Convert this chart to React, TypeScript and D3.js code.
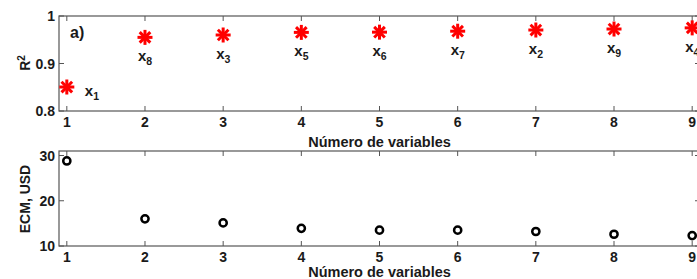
import React from "react";
import * as d3 from "d3";

const nVars = [1, 2, 3, 4, 5, 6, 7, 8, 9];
const r2Values = [0.8505, 0.955, 0.96, 0.9655, 0.966, 0.968, 0.9705, 0.9726, 0.975];
const varLabels = ["1", "8", "3", "5", "6", "7", "2", "9", "4"];
const ecmValues = [28.8, 16.0, 15.1, 13.9, 13.5, 13.5, 13.2, 12.6, 12.3];
const r2Ticks = [0.8, 0.9, 1];
const ecmTicks = [10, 20, 30];

const W = 697;
const H = 279;
const left = 59;
const right = 700;
const font = "'Liberation Sans', Arial, sans-serif";
const axisColor = "#555";
const textColor = "#1a1a1a";

function Asterisk({ cx, cy }: { cx: number; cy: number }) {
  const r = 7.5;
  const angles = [0, 45, 90, 135];
  return (
    <g stroke="#ff0000" strokeWidth={3} strokeLinecap="butt">
      {angles.map((a) => {
        const rad = (a * Math.PI) / 180;
        return (
          <line key={a} x1={cx - r * Math.cos(rad)} y1={cy - r * Math.sin(rad)} x2={cx + r * Math.cos(rad)} y2={cy + r * Math.sin(rad)} />
        );
      })}
    </g>
  );
}

export default function App() {
  const x = d3.scaleLinear().domain([0.9, 9.1]).range([left, right]);
  const yTop = d3.scaleLinear().domain([0.8, 1]).range([111, 16]);
  const yBot = d3.scaleLinear().domain([10, 31]).range([246, 151]);

  const panel = (
    y: d3.ScaleLinear<number, number>,
    ticks: number[],
    fmt: (v: number) => string,
    label: React.ReactNode,
    xLabelY: number,
    key: string
  ) => {
    const [y0, y1] = y.range();
    return (
      <g key={key}>
        <rect x={left} y={y1} width={right - left} height={y0 - y1} fill="white" stroke={axisColor} strokeWidth={1.2} />
        {nVars.map((v) => (
          <g key={"xt" + v}>
            <line x1={x(v)} x2={x(v)} y1={y0} y2={y0 - 5} stroke={axisColor} strokeWidth={1} />
            <line x1={x(v)} x2={x(v)} y1={y1} y2={y1 + 5} stroke={axisColor} strokeWidth={1} />
            <text x={x(v)} y={y0 + 16} textAnchor="middle" fontFamily={font} fontWeight="bold" fontSize={14} fill={textColor}>
              {v}
            </text>
          </g>
        ))}
        {ticks.map((t) => (
          <g key={"yt" + t}>
            <line x1={left} x2={left + 5} y1={y(t)} y2={y(t)} stroke={axisColor} strokeWidth={1} />
            <line x1={right} x2={right - 5} y1={y(t)} y2={y(t)} stroke={axisColor} strokeWidth={1} />
            <text x={left - 4} y={y(t) + 5} textAnchor="end" fontFamily={font} fontWeight="bold" fontSize={14} fill={textColor}>
              {fmt(t)}
            </text>
          </g>
        ))}
        <text x={(left + right) / 2} y={xLabelY} textAnchor="middle" fontFamily={font} fontWeight="bold" fontSize={14.5} fill={textColor}>
          Número de variables
        </text>
        {label}
      </g>
    );
  };

  return (
    <svg width={W} height={H} style={{ position: "absolute", left: 0, top: 0, background: "white" }}>
      {panel(
        yTop,
        r2Ticks,
        (v) => (v === 1 ? "1" : v.toFixed(1)),
        <text transform={`translate(30,${63}) rotate(-90)`} textAnchor="middle" fontFamily={font} fontWeight="bold" fontSize={14} fill={textColor}>
          R<tspan fontSize={10} dy={-5}>2</tspan>
        </text>,
        147,
        "top"
      )}
      {panel(
        yBot,
        ecmTicks,
        (v) => String(v),
        <text transform={`translate(30,${199}) rotate(-90)`} textAnchor="middle" fontFamily={font} fontWeight="bold" fontSize={14} fill={textColor}>
          ECM, USD
        </text>,
        277,
        "bot"
      )}
      <text x={70} y={38} fontFamily={font} fontWeight="bold" fontSize={16} fill={textColor}>
        a)
      </text>
      {nVars.map((v, i) => (
        <Asterisk key={"a" + v} cx={x(v)} cy={yTop(r2Values[i])} />
      ))}
      {nVars.map((v, i) => {
        const first = i === 0;
        const tx = first ? x(v) + 18 : x(v) - 7;
        const ty = first ? yTop(r2Values[i]) + 9 : yTop(r2Values[i]) + 24;
        return (
          <text key={"l" + v} x={tx} y={ty} fontFamily={font} fontWeight={600} fontSize={15} fill={textColor}>
            x<tspan fontSize={10.5} dy={4}>{varLabels[i]}</tspan>
          </text>
        );
      })}
      {nVars.map((v, i) => (
        <circle key={"c" + v} cx={x(v)} cy={yBot(ecmValues[i])} r={3.6} fill="white" stroke="#000" strokeWidth={2.5} />
      ))}
    </svg>
  );
}
